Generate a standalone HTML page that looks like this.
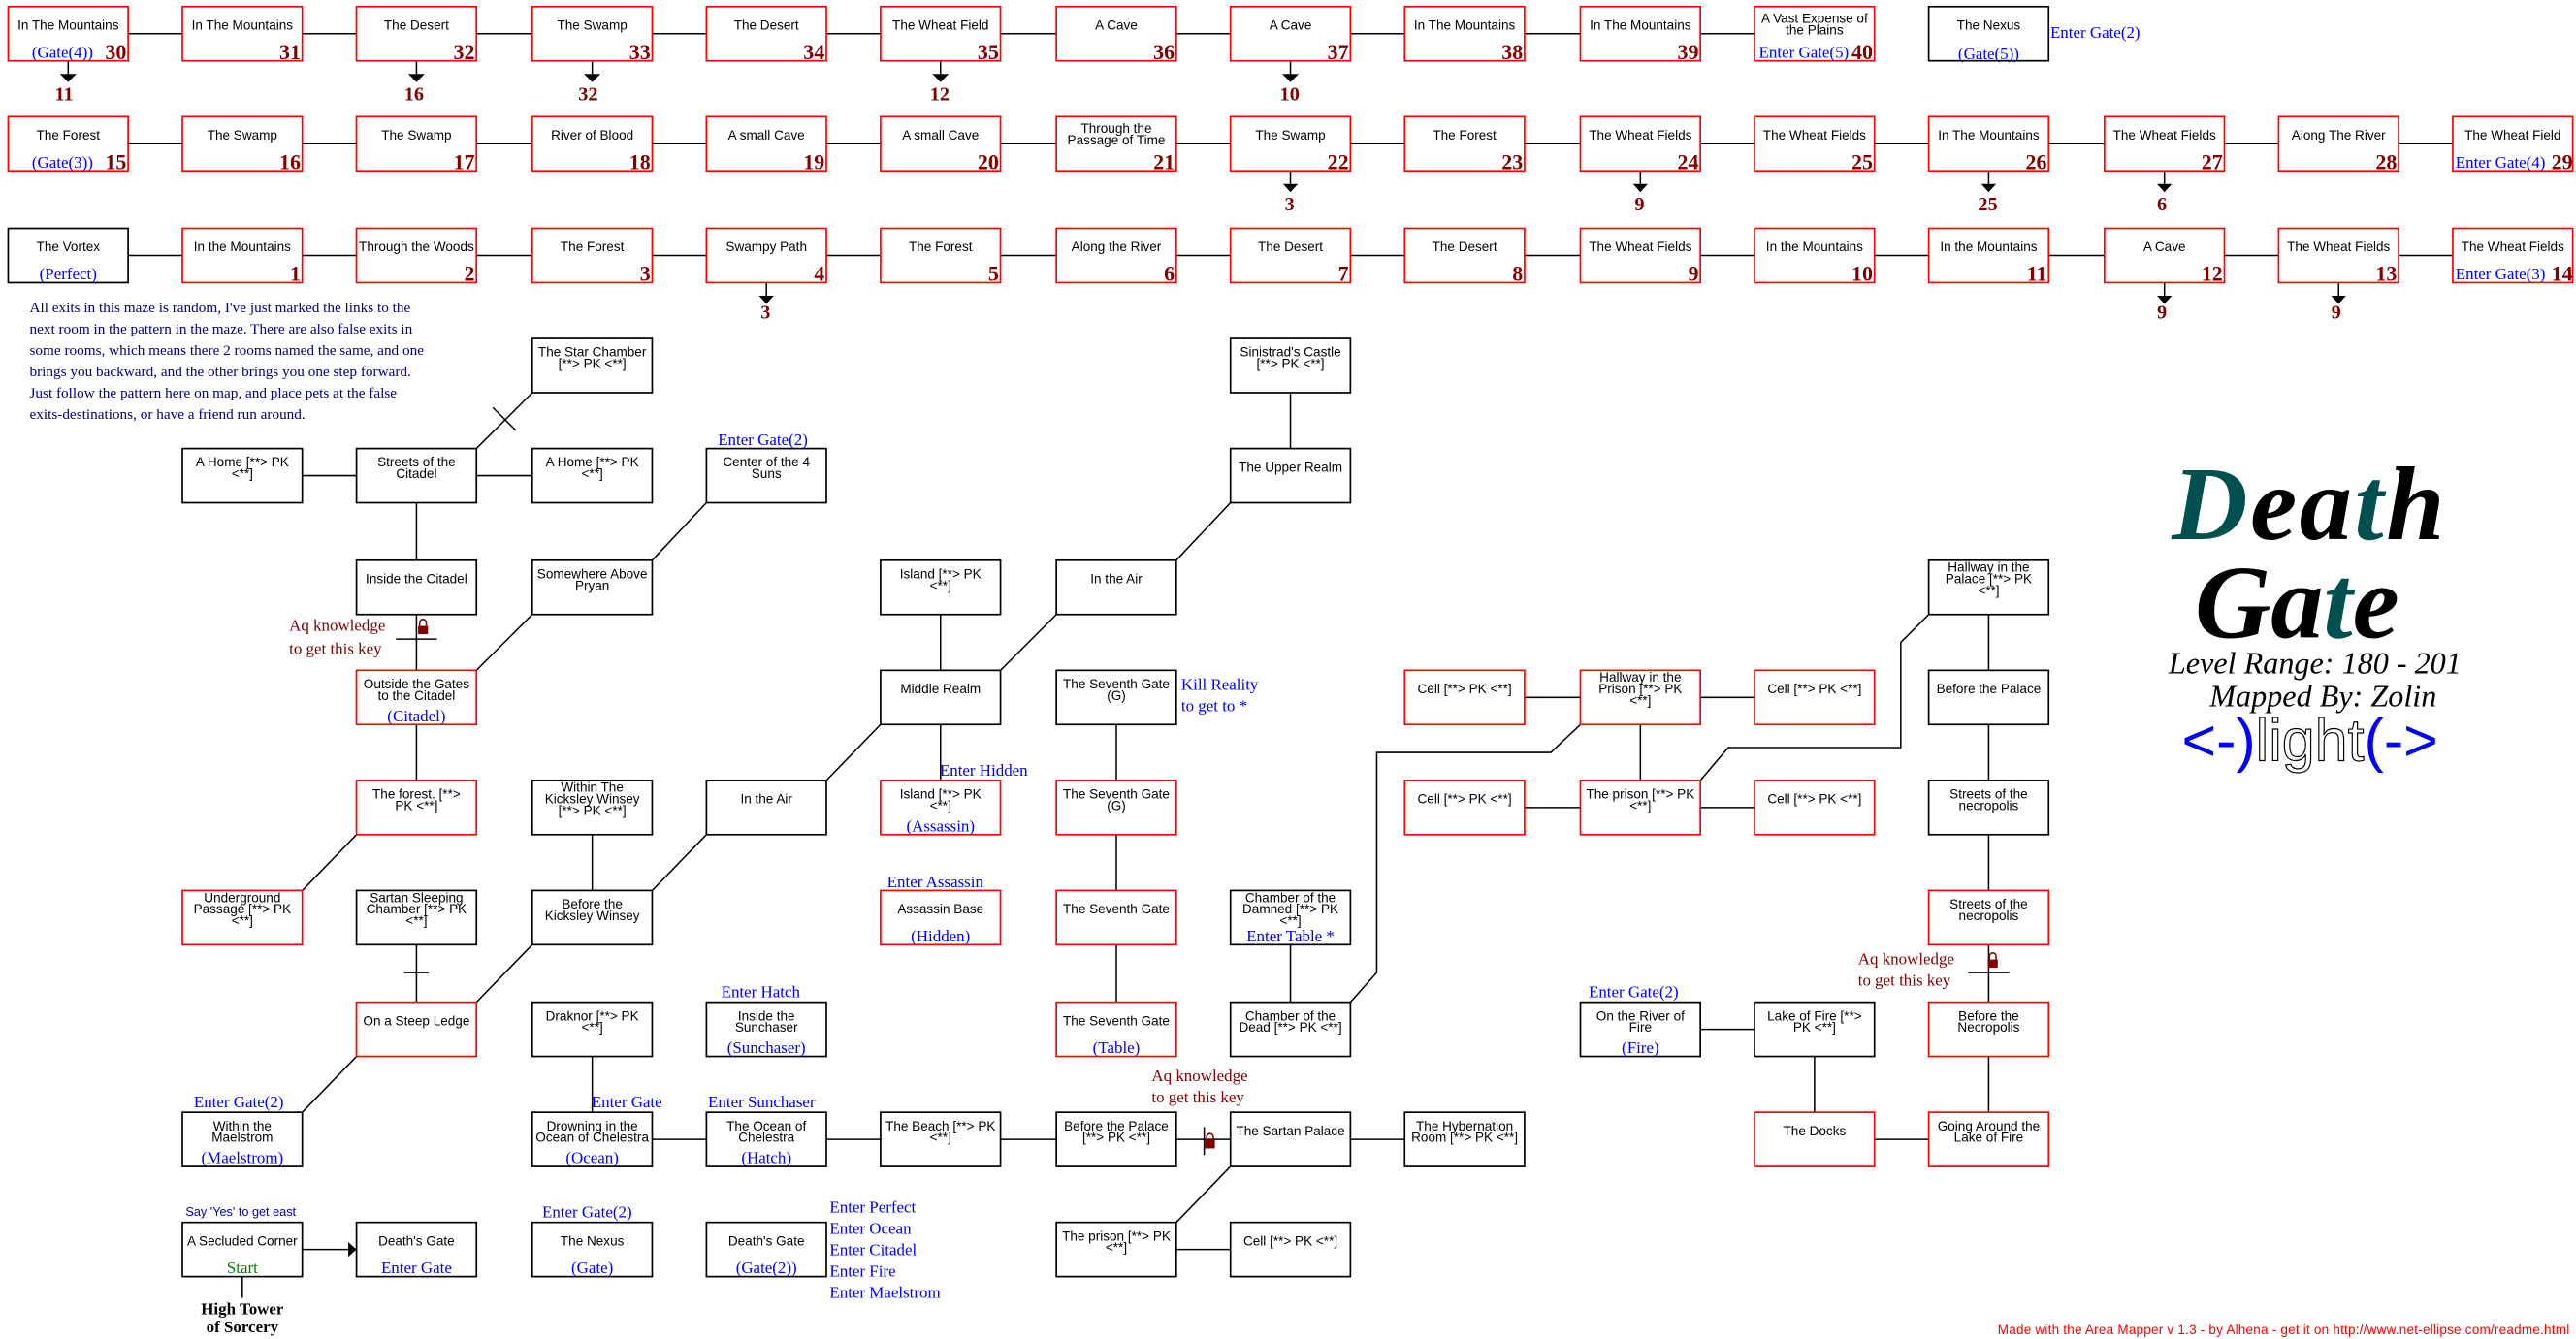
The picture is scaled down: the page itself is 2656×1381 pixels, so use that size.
<!DOCTYPE html>
<html><head><meta charset="utf-8"><style>
html,body{margin:0;padding:0;background:#fff;}
svg{display:block}
.n{font-family:"Liberation Sans Narrow","Liberation Sans",sans-serif;font-size:8px;text-anchor:middle;fill:#000}
.num{font-family:"Liberation Serif",serif;font-weight:bold;font-size:13px;text-anchor:end;fill:#800000}
.sub{font-family:"Liberation Serif",serif;font-size:10px;text-anchor:middle;fill:#0000ff}
.lb{font-family:"Liberation Serif",serif;font-size:10px;fill:#0000ff}
.key{font-family:"Liberation Serif",serif;font-size:10px;fill:#800000}
.an{font-family:"Liberation Serif",serif;font-weight:bold;font-size:12px;text-anchor:middle;fill:#800000}
.r{fill:#fff;stroke:#f00;stroke-width:1}
.b{fill:#fff;stroke:#000;stroke-width:1}
.ln{stroke:#000;stroke-width:0.9;fill:none}
</style></head><body>
<svg width="2656" height="1381" viewBox="0 0 1568 815" preserveAspectRatio="none" xmlns="http://www.w3.org/2000/svg">
<rect width="1568" height="815" fill="#fff"/>
<g class="ln">
<line x1="41" y1="20.5" x2="1104" y2="20.5"/>
<line x1="41" y1="87.5" x2="1529" y2="87.5"/>
<line x1="41" y1="155.5" x2="1529" y2="155.5"/>
<line x1="41.5" y1="37" x2="41.5" y2="45"/><line x1="253.5" y1="37" x2="253.5" y2="45"/><line x1="360.5" y1="37" x2="360.5" y2="45"/><line x1="572.5" y1="37" x2="572.5" y2="45"/><line x1="785.5" y1="37" x2="785.5" y2="45"/>
<line x1="785.5" y1="104" x2="785.5" y2="112"/><line x1="998.5" y1="104" x2="998.5" y2="112"/><line x1="1210.5" y1="104" x2="1210.5" y2="112"/><line x1="1317.5" y1="104" x2="1317.5" y2="112"/>
<line x1="466.5" y1="172" x2="466.5" y2="180"/><line x1="1317.5" y1="172" x2="1317.5" y2="180"/><line x1="1423.5" y1="172" x2="1423.5" y2="180"/>
<line x1="324" y1="239" x2="290" y2="273"/><line x1="300" y1="248" x2="314" y2="262"/>
<line x1="147" y1="289.5" x2="360" y2="289.5"/>
<line x1="253.5" y1="306" x2="253.5" y2="475"/>
<line x1="241" y1="389" x2="266" y2="389"/>
<line x1="430" y1="306" x2="397" y2="341"/>
<line x1="324" y1="374" x2="290" y2="408"/>
<line x1="217" y1="508" x2="184" y2="542"/>
<line x1="253.5" y1="575" x2="253.5" y2="610"/><line x1="246" y1="592" x2="261" y2="592"/>
<line x1="290" y1="610" x2="324" y2="575"/>
<line x1="360.5" y1="508" x2="360.5" y2="542"/>
<line x1="397" y1="542" x2="430" y2="508"/>
<line x1="503" y1="475" x2="536" y2="441"/>
<line x1="572.5" y1="374" x2="572.5" y2="475"/>
<line x1="609" y1="408" x2="643" y2="374"/>
<line x1="716" y1="341" x2="749" y2="306"/>
<line x1="785.5" y1="239" x2="785.5" y2="273"/>
<line x1="679.5" y1="441" x2="679.5" y2="610"/>
<line x1="217" y1="643" x2="184" y2="677"/>
<line x1="360.5" y1="643" x2="360.5" y2="677"/>
<line x1="360" y1="693.5" x2="891" y2="693.5"/>
<line x1="733" y1="686" x2="733" y2="703"/>
<line x1="749" y1="710" x2="716" y2="744"/>
<line x1="679" y1="760.5" x2="785" y2="760.5"/>
<line x1="785.5" y1="575" x2="785.5" y2="610"/>
<polyline points="822,610 838,592 838,458 944,458 962,441"/>
<line x1="891" y1="424.5" x2="1104" y2="424.5"/>
<line x1="998.5" y1="441" x2="998.5" y2="475"/>
<line x1="891" y1="491.5" x2="1104" y2="491.5"/>
<polyline points="1035,475 1052,455 1157,455 1157,391 1174,374"/>
<line x1="1210.5" y1="374" x2="1210.5" y2="677"/>
<line x1="1198" y1="592" x2="1223" y2="592"/>
<line x1="998" y1="626.5" x2="1104" y2="626.5"/>
<line x1="1104.5" y1="643" x2="1104.5" y2="677"/>
<line x1="1104" y1="693.5" x2="1210" y2="693.5"/>
<line x1="184" y1="760.5" x2="212" y2="760.5"/>
<line x1="147.5" y1="777" x2="147.5" y2="790"/>
</g>
<g fill="#000">
<polygon points="36.5,45 46.5,45 41.5,50"/><polygon points="248.5,45 258.5,45 253.5,50"/><polygon points="355.5,45 365.5,45 360.5,50"/><polygon points="567.5,45 577.5,45 572.5,50"/><polygon points="780.5,45 790.5,45 785.5,50"/>
<polygon points="781,112 790,112 785.5,117"/><polygon points="994,112 1003,112 998.5,117"/><polygon points="1206,112 1215,112 1210.5,117"/><polygon points="1313,112 1322,112 1317.5,117"/>
<polygon points="462,180 471,180 466.5,185"/><polygon points="1313,180 1322,180 1317.5,185"/><polygon points="1419,180 1428,180 1423.5,185"/>
<polygon points="212,756 217,760.5 212,765"/>
</g>
<text class="an" x="39" y="61">11</text><text class="an" x="252" y="61">16</text><text class="an" x="358" y="61">32</text><text class="an" x="572" y="61">12</text><text class="an" x="785" y="61">10</text>
<text class="an" x="785" y="128">3</text><text class="an" x="998" y="128">9</text><text class="an" x="1210" y="128">25</text><text class="an" x="1316" y="128">6</text>
<text class="an" x="466" y="194">3</text><text class="an" x="1316" y="194">9</text><text class="an" x="1422" y="194">9</text>

<g transform="translate(5,4)"><rect class="r" width="73" height="33"/><text class="n" x="36.5" y="14">In The Mountains</text><text class="sub" x="33" y="31">(Gate(4))</text><text class="num" x="72" y="32">30</text></g>
<g transform="translate(111,4)"><rect class="r" width="73" height="33"/><text class="n" x="36.5" y="14">In The Mountains</text><text class="num" x="72" y="32">31</text></g>
<g transform="translate(217,4)"><rect class="r" width="73" height="33"/><text class="n" x="36.5" y="14">The Desert</text><text class="num" x="72" y="32">32</text></g>
<g transform="translate(324,4)"><rect class="r" width="73" height="33"/><text class="n" x="36.5" y="14">The Swamp</text><text class="num" x="72" y="32">33</text></g>
<g transform="translate(430,4)"><rect class="r" width="73" height="33"/><text class="n" x="36.5" y="14">The Desert</text><text class="num" x="72" y="32">34</text></g>
<g transform="translate(536,4)"><rect class="r" width="73" height="33"/><text class="n" x="36.5" y="14">The Wheat Field</text><text class="num" x="72" y="32">35</text></g>
<g transform="translate(643,4)"><rect class="r" width="73" height="33"/><text class="n" x="36.5" y="14">A Cave</text><text class="num" x="72" y="32">36</text></g>
<g transform="translate(749,4)"><rect class="r" width="73" height="33"/><text class="n" x="36.5" y="14">A Cave</text><text class="num" x="72" y="32">37</text></g>
<g transform="translate(855,4)"><rect class="r" width="73" height="33"/><text class="n" x="36.5" y="14">In The Mountains</text><text class="num" x="72" y="32">38</text></g>
<g transform="translate(962,4)"><rect class="r" width="73" height="33"/><text class="n" x="36.5" y="14">In The Mountains</text><text class="num" x="72" y="32">39</text></g>
<g transform="translate(1068,4)"><rect class="r" width="73" height="33"/><text class="n" x="36.5" y="10">A Vast Expense of</text><text class="n" x="36.5" y="17">the Plains</text><text class="sub" x="30" y="31">Enter Gate(5)</text><text class="num" x="72" y="32">40</text></g>
<g transform="translate(1174,4)"><rect class="b" width="73" height="33"/><text class="n" x="36.5" y="14">The Nexus</text><text class="sub" x="36.5" y="32">(Gate(5))</text></g>
<text class="lb" x="1248" y="23">Enter Gate(2)</text>

<g transform="translate(5,71)"><rect class="r" width="73" height="33"/><text class="n" x="36.5" y="14">The Forest</text><text class="sub" x="33" y="31">(Gate(3))</text><text class="num" x="72" y="32">15</text></g>
<g transform="translate(111,71)"><rect class="r" width="73" height="33"/><text class="n" x="36.5" y="14">The Swamp</text><text class="num" x="72" y="32">16</text></g>
<g transform="translate(217,71)"><rect class="r" width="73" height="33"/><text class="n" x="36.5" y="14">The Swamp</text><text class="num" x="72" y="32">17</text></g>
<g transform="translate(324,71)"><rect class="r" width="73" height="33"/><text class="n" x="36.5" y="14">River of Blood</text><text class="num" x="72" y="32">18</text></g>
<g transform="translate(430,71)"><rect class="r" width="73" height="33"/><text class="n" x="36.5" y="14">A small Cave</text><text class="num" x="72" y="32">19</text></g>
<g transform="translate(536,71)"><rect class="r" width="73" height="33"/><text class="n" x="36.5" y="14">A small Cave</text><text class="num" x="72" y="32">20</text></g>
<g transform="translate(643,71)"><rect class="r" width="73" height="33"/><text class="n" x="36.5" y="10">Through the</text><text class="n" x="36.5" y="17">Passage of Time</text><text class="num" x="72" y="32">21</text></g>
<g transform="translate(749,71)"><rect class="r" width="73" height="33"/><text class="n" x="36.5" y="14">The Swamp</text><text class="num" x="72" y="32">22</text></g>
<g transform="translate(855,71)"><rect class="r" width="73" height="33"/><text class="n" x="36.5" y="14">The Forest</text><text class="num" x="72" y="32">23</text></g>
<g transform="translate(962,71)"><rect class="r" width="73" height="33"/><text class="n" x="36.5" y="14">The Wheat Fields</text><text class="num" x="72" y="32">24</text></g>
<g transform="translate(1068,71)"><rect class="r" width="73" height="33"/><text class="n" x="36.5" y="14">The Wheat Fields</text><text class="num" x="72" y="32">25</text></g>
<g transform="translate(1174,71)"><rect class="r" width="73" height="33"/><text class="n" x="36.5" y="14">In The Mountains</text><text class="num" x="72" y="32">26</text></g>
<g transform="translate(1281,71)"><rect class="r" width="73" height="33"/><text class="n" x="36.5" y="14">The Wheat Fields</text><text class="num" x="72" y="32">27</text></g>
<g transform="translate(1387,71)"><rect class="r" width="73" height="33"/><text class="n" x="36.5" y="14">Along The River</text><text class="num" x="72" y="32">28</text></g>
<g transform="translate(1493,71)"><rect class="r" width="73" height="33"/><text class="n" x="36.5" y="14">The Wheat Field</text><text class="sub" x="29" y="31">Enter Gate(4)</text><text class="num" x="73" y="32">29</text></g>

<g transform="translate(5,139)"><rect class="b" width="73" height="33"/><text class="n" x="36.5" y="14">The Vortex</text><text class="sub" x="36.5" y="31">(Perfect)</text></g>
<g transform="translate(111,139)"><rect class="r" width="73" height="33"/><text class="n" x="36.5" y="14">In the Mountains</text><text class="num" x="72" y="32">1</text></g>
<g transform="translate(217,139)"><rect class="r" width="73" height="33"/><text class="n" x="36.5" y="14">Through the Woods</text><text class="num" x="72" y="32">2</text></g>
<g transform="translate(324,139)"><rect class="r" width="73" height="33"/><text class="n" x="36.5" y="14">The Forest</text><text class="num" x="72" y="32">3</text></g>
<g transform="translate(430,139)"><rect class="r" width="73" height="33"/><text class="n" x="36.5" y="14">Swampy Path</text><text class="num" x="72" y="32">4</text></g>
<g transform="translate(536,139)"><rect class="r" width="73" height="33"/><text class="n" x="36.5" y="14">The Forest</text><text class="num" x="72" y="32">5</text></g>
<g transform="translate(643,139)"><rect class="r" width="73" height="33"/><text class="n" x="36.5" y="14">Along the River</text><text class="num" x="72" y="32">6</text></g>
<g transform="translate(749,139)"><rect class="r" width="73" height="33"/><text class="n" x="36.5" y="14">The Desert</text><text class="num" x="72" y="32">7</text></g>
<g transform="translate(855,139)"><rect class="r" width="73" height="33"/><text class="n" x="36.5" y="14">The Desert</text><text class="num" x="72" y="32">8</text></g>
<g transform="translate(962,139)"><rect class="r" width="73" height="33"/><text class="n" x="36.5" y="14">The Wheat Fields</text><text class="num" x="72" y="32">9</text></g>
<g transform="translate(1068,139)"><rect class="r" width="73" height="33"/><text class="n" x="36.5" y="14">In the Mountains</text><text class="num" x="72" y="32">10</text></g>
<g transform="translate(1174,139)"><rect class="r" width="73" height="33"/><text class="n" x="36.5" y="14">In the Mountains</text><text class="num" x="72" y="32">11</text></g>
<g transform="translate(1281,139)"><rect class="r" width="73" height="33"/><text class="n" x="36.5" y="14">A Cave</text><text class="num" x="72" y="32">12</text></g>
<g transform="translate(1387,139)"><rect class="r" width="73" height="33"/><text class="n" x="36.5" y="14">The Wheat Fields</text><text class="num" x="72" y="32">13</text></g>
<g transform="translate(1493,139)"><rect class="r" width="73" height="33"/><text class="n" x="36.5" y="14">The Wheat Fields</text><text class="sub" x="29" y="31">Enter Gate(3)</text><text class="num" x="73" y="32">14</text></g>

<g font-family="Liberation Serif,serif" font-size="9" fill="#000080">
<text x="18" y="190">All exits in this maze is random, I've just marked the links to the</text>
<text x="18" y="203">next room in the pattern in the maze. There are also false exits in</text>
<text x="18" y="216">some rooms, which means there 2 rooms named the same, and one</text>
<text x="18" y="229">brings you backward, and the other brings you one step forward.</text>
<text x="18" y="242">Just follow the pattern here on map, and place pets at the false</text>
<text x="18" y="255">exits-destinations, or have a friend run around.</text>
</g>

<g transform="translate(324,206)"><rect class="b" width="73" height="33"/><text class="n" x="36.5" y="11">The Star Chamber</text><text class="n" x="36.5" y="18">[**&gt; PK &lt;**]</text></g>
<g transform="translate(749,206)"><rect class="b" width="73" height="33"/><text class="n" x="36.5" y="11">Sinistrad's Castle</text><text class="n" x="36.5" y="18">[**&gt; PK &lt;**]</text></g>

<g transform="translate(111,273)"><rect class="b" width="73" height="33"/><text class="n" x="36.5" y="11">A Home [**&gt; PK</text><text class="n" x="36.5" y="18">&lt;**]</text></g>
<g transform="translate(217,273)"><rect class="b" width="73" height="33"/><text class="n" x="36.5" y="11">Streets of the</text><text class="n" x="36.5" y="18">Citadel</text></g>
<g transform="translate(324,273)"><rect class="b" width="73" height="33"/><text class="n" x="36.5" y="11">A Home [**&gt; PK</text><text class="n" x="36.5" y="18">&lt;**]</text></g>
<g transform="translate(430,273)"><rect class="b" width="73" height="33"/><text class="n" x="36.5" y="11">Center of the 4</text><text class="n" x="36.5" y="18">Suns</text></g>
<text class="lb" x="437" y="271">Enter Gate(2)</text>
<g transform="translate(749,273)"><rect class="b" width="73" height="33"/><text class="n" x="36.5" y="14">The Upper Realm</text></g>

<g transform="translate(217,341)"><rect class="b" width="73" height="33"/><text class="n" x="36.5" y="14">Inside the Citadel</text></g>
<g transform="translate(324,341)"><rect class="b" width="73" height="33"/><text class="n" x="36.5" y="11">Somewhere Above</text><text class="n" x="36.5" y="18">Pryan</text></g>
<g transform="translate(536,341)"><rect class="b" width="73" height="33"/><text class="n" x="36.5" y="11">Island [**&gt; PK</text><text class="n" x="36.5" y="18">&lt;**]</text></g>
<g transform="translate(643,341)"><rect class="b" width="73" height="33"/><text class="n" x="36.5" y="14">In the Air</text></g>
<g transform="translate(1174,341)"><rect class="b" width="73" height="33"/><text class="n" x="36.5" y="7">Hallway in the</text><text class="n" x="36.5" y="14">Palace [**&gt; PK</text><text class="n" x="36.5" y="21">&lt;**]</text></g>

<g transform="translate(217,408)"><rect class="r" width="73" height="33"/><text class="n" x="36.5" y="11">Outside the Gates</text><text class="n" x="36.5" y="18">to the Citadel</text><text class="sub" x="36.5" y="31">(Citadel)</text></g>
<g transform="translate(536,408)"><rect class="b" width="73" height="33"/><text class="n" x="36.5" y="14">Middle Realm</text></g>
<g transform="translate(643,408)"><rect class="b" width="73" height="33"/><text class="n" x="36.5" y="11">The Seventh Gate</text><text class="n" x="36.5" y="18">(G)</text></g>
<g transform="translate(855,408)"><rect class="r" width="73" height="33"/><text class="n" x="36.5" y="14">Cell [**&gt; PK &lt;**]</text></g>
<g transform="translate(962,408)"><rect class="r" width="73" height="33"/><text class="n" x="36.5" y="7">Hallway in the</text><text class="n" x="36.5" y="14">Prison [**&gt; PK</text><text class="n" x="36.5" y="21">&lt;**]</text></g>
<g transform="translate(1068,408)"><rect class="r" width="73" height="33"/><text class="n" x="36.5" y="14">Cell [**&gt; PK &lt;**]</text></g>
<g transform="translate(1174,408)"><rect class="b" width="73" height="33"/><text class="n" x="36.5" y="14">Before the Palace</text></g>

<g transform="translate(217,475)"><rect class="r" width="73" height="33"/><text class="n" x="36.5" y="11">The forest. [**&gt;</text><text class="n" x="36.5" y="18">PK &lt;**]</text></g>
<g transform="translate(324,475)"><rect class="b" width="73" height="33"/><text class="n" x="36.5" y="7">Within The</text><text class="n" x="36.5" y="14">Kicksley Winsey</text><text class="n" x="36.5" y="21">[**&gt; PK &lt;**]</text></g>
<g transform="translate(430,475)"><rect class="b" width="73" height="33"/><text class="n" x="36.5" y="14">In the Air</text></g>
<g transform="translate(536,475)"><rect class="r" width="73" height="33"/><text class="n" x="36.5" y="11">Island [**&gt; PK</text><text class="n" x="36.5" y="18">&lt;**]</text><text class="sub" x="36.5" y="31">(Assassin)</text></g>
<g transform="translate(643,475)"><rect class="r" width="73" height="33"/><text class="n" x="36.5" y="11">The Seventh Gate</text><text class="n" x="36.5" y="18">(G)</text></g>
<g transform="translate(855,475)"><rect class="r" width="73" height="33"/><text class="n" x="36.5" y="14">Cell [**&gt; PK &lt;**]</text></g>
<g transform="translate(962,475)"><rect class="r" width="73" height="33"/><text class="n" x="36.5" y="11">The prison [**&gt; PK</text><text class="n" x="36.5" y="18">&lt;**]</text></g>
<g transform="translate(1068,475)"><rect class="r" width="73" height="33"/><text class="n" x="36.5" y="14">Cell [**&gt; PK &lt;**]</text></g>
<g transform="translate(1174,475)"><rect class="b" width="73" height="33"/><text class="n" x="36.5" y="11">Streets of the</text><text class="n" x="36.5" y="18">necropolis</text></g>

<g transform="translate(111,542)"><rect class="r" width="73" height="33"/><text class="n" x="36.5" y="7">Underground</text><text class="n" x="36.5" y="14">Passage [**&gt; PK</text><text class="n" x="36.5" y="21">&lt;**]</text></g>
<g transform="translate(217,542)"><rect class="b" width="73" height="33"/><text class="n" x="36.5" y="7">Sartan Sleeping</text><text class="n" x="36.5" y="14">Chamber [**&gt; PK</text><text class="n" x="36.5" y="21">&lt;**]</text></g>
<g transform="translate(324,542)"><rect class="b" width="73" height="33"/><text class="n" x="36.5" y="11">Before the</text><text class="n" x="36.5" y="18">Kicksley Winsey</text></g>
<g transform="translate(536,542)"><rect class="r" width="73" height="33"/><text class="n" x="36.5" y="14">Assassin Base</text><text class="sub" x="36.5" y="31">(Hidden)</text></g>
<g transform="translate(643,542)"><rect class="r" width="73" height="33"/><text class="n" x="36.5" y="14">The Seventh Gate</text></g>
<g transform="translate(749,542)"><rect class="b" width="73" height="33"/><text class="n" x="36.5" y="7">Chamber of the</text><text class="n" x="36.5" y="14">Damned [**&gt; PK</text><text class="n" x="36.5" y="21">&lt;**]</text><text class="sub" x="36.5" y="31">Enter Table  *</text></g>
<g transform="translate(1174,542)"><rect class="r" width="73" height="33"/><text class="n" x="36.5" y="11">Streets of the</text><text class="n" x="36.5" y="18">necropolis</text></g>

<g transform="translate(217,610)"><rect class="r" width="73" height="33"/><text class="n" x="36.5" y="14">On a Steep Ledge</text></g>
<g transform="translate(324,610)"><rect class="b" width="73" height="33"/><text class="n" x="36.5" y="11">Draknor [**&gt; PK</text><text class="n" x="36.5" y="18">&lt;**]</text></g>
<g transform="translate(430,610)"><rect class="b" width="73" height="33"/><text class="n" x="36.5" y="11">Inside the</text><text class="n" x="36.5" y="18">Sunchaser</text><text class="sub" x="36.5" y="31">(Sunchaser)</text></g>
<text class="lb" x="439" y="607">Enter Hatch</text>
<g transform="translate(643,610)"><rect class="r" width="73" height="33"/><text class="n" x="36.5" y="14">The Seventh Gate</text><text class="sub" x="36.5" y="31">(Table)</text></g>
<g transform="translate(749,610)"><rect class="b" width="73" height="33"/><text class="n" x="36.5" y="11">Chamber of the</text><text class="n" x="36.5" y="18">Dead [**&gt; PK &lt;**]</text></g>
<g transform="translate(962,610)"><rect class="b" width="73" height="33"/><text class="n" x="36.5" y="11">On the River of</text><text class="n" x="36.5" y="18">Fire</text><text class="sub" x="36.5" y="31">(Fire)</text></g>
<text class="lb" x="967" y="607">Enter Gate(2)</text>
<g transform="translate(1068,610)"><rect class="b" width="73" height="33"/><text class="n" x="36.5" y="11">Lake of Fire [**&gt;</text><text class="n" x="36.5" y="18">PK &lt;**]</text></g>
<g transform="translate(1174,610)"><rect class="r" width="73" height="33"/><text class="n" x="36.5" y="11">Before the</text><text class="n" x="36.5" y="18">Necropolis</text></g>

<g transform="translate(111,677)"><rect class="b" width="73" height="33"/><text class="n" x="36.5" y="11">Within the</text><text class="n" x="36.5" y="18">Maelstrom</text><text class="sub" x="36.5" y="31">(Maelstrom)</text></g>
<text class="lb" x="118" y="674">Enter Gate(2)</text>
<g transform="translate(324,677)"><rect class="b" width="73" height="33"/><text class="n" x="36.5" y="11">Drowning in the</text><text class="n" x="36.5" y="18">Ocean of Chelestra</text><text class="sub" x="36.5" y="31">(Ocean)</text></g>
<text class="lb" x="360" y="674">Enter Gate</text>
<g transform="translate(430,677)"><rect class="b" width="73" height="33"/><text class="n" x="36.5" y="11">The Ocean of</text><text class="n" x="36.5" y="18">Chelestra</text><text class="sub" x="36.5" y="31">(Hatch)</text></g>
<text class="lb" x="431" y="674">Enter Sunchaser</text>
<g transform="translate(536,677)"><rect class="b" width="73" height="33"/><text class="n" x="36.5" y="11">The Beach [**&gt; PK</text><text class="n" x="36.5" y="18">&lt;**]</text></g>
<g transform="translate(643,677)"><rect class="b" width="73" height="33"/><text class="n" x="36.5" y="11">Before the Palace</text><text class="n" x="36.5" y="18">[**&gt; PK &lt;**]</text></g>
<g transform="translate(749,677)"><rect class="b" width="73" height="33"/><text class="n" x="36.5" y="14">The Sartan Palace</text></g>
<g transform="translate(855,677)"><rect class="b" width="73" height="33"/><text class="n" x="36.5" y="11">The Hybernation</text><text class="n" x="36.5" y="18">Room [**&gt; PK &lt;**]</text></g>
<g transform="translate(1068,677)"><rect class="r" width="73" height="33"/><text class="n" x="36.5" y="14">The Docks</text></g>
<g transform="translate(1174,677)"><rect class="r" width="73" height="33"/><text class="n" x="36.5" y="11">Going Around the</text><text class="n" x="36.5" y="18">Lake of Fire</text></g>

<g transform="translate(111,744)"><rect class="b" width="73" height="33"/><text class="n" x="36.5" y="14">A Secluded Corner</text><text class="sub" x="36.5" y="31" style="fill:#008000">Start</text></g>
<text x="113" y="740" font-family="Liberation Sans,sans-serif" font-size="7.5" fill="#0000c0">Say 'Yes' to get east</text>
<g transform="translate(217,744)"><rect class="b" width="73" height="33"/><text class="n" x="36.5" y="14">Death's Gate</text><text class="sub" x="36.5" y="31">Enter Gate</text></g>
<g transform="translate(324,744)"><rect class="b" width="73" height="33"/><text class="n" x="36.5" y="14">The Nexus</text><text class="sub" x="36.5" y="31">(Gate)</text></g>
<text class="lb" x="330" y="741">Enter Gate(2)</text>
<g transform="translate(430,744)"><rect class="b" width="73" height="33"/><text class="n" x="36.5" y="14">Death's Gate</text><text class="sub" x="36.5" y="31">(Gate(2))</text></g>
<g transform="translate(643,744)"><rect class="b" width="73" height="33"/><text class="n" x="36.5" y="11">The prison [**&gt; PK</text><text class="n" x="36.5" y="18">&lt;**]</text></g>
<g transform="translate(749,744)"><rect class="b" width="73" height="33"/><text class="n" x="36.5" y="14">Cell [**&gt; PK &lt;**]</text></g>

<text x="147.5" y="800" text-anchor="middle" font-family="Liberation Serif,serif" font-weight="bold" font-size="10" fill="#000">High Tower</text>
<text x="147.5" y="811" text-anchor="middle" font-family="Liberation Serif,serif" font-weight="bold" font-size="10" fill="#000">of Sorcery</text>

<text class="lb" x="572" y="472">Enter Hidden</text>
<text class="lb" x="540" y="540">Enter Assassin</text>
<text class="lb" x="719" y="420">Kill Reality</text>
<text class="lb" x="719" y="433">to get to *</text>
<g class="lb"><text x="505" y="738">Enter Perfect</text><text x="505" y="751">Enter Ocean</text><text x="505" y="764">Enter Citadel</text><text x="505" y="777">Enter Fire</text><text x="505" y="790">Enter Maelstrom</text></g>
<text class="key" x="176" y="384">Aq knowledge</text><text class="key" x="176" y="398">to get this key</text>
<text class="key" x="701" y="658">Aq knowledge</text><text class="key" x="701" y="671">to get this key</text>
<text class="key" x="1131" y="587">Aq knowledge</text><text class="key" x="1131" y="600">to get this key</text>
<g fill="#800000" stroke="#800000">
<path d="M255.5,381 v-2 a2,2 0 0 1 4,0 v2" fill="none" stroke-width="0.9"/><rect x="254.5" y="381" width="6" height="5" stroke="none"/>
<path d="M734.5,694 v-2 a2,2 0 0 1 4,0 v2" fill="none" stroke-width="0.9"/><rect x="733.5" y="694" width="6" height="5" stroke="none"/>
<path d="M1211,584 v-2 a2,2 0 0 1 4,0 v2" fill="none" stroke-width="0.9"/><rect x="1210" y="584" width="6" height="5" stroke="none"/>
</g>

<text x="1322" y="328" font-family="Liberation Serif,serif" font-style="italic" font-weight="bold" font-size="64" fill="#000" textLength="166"><tspan fill="#005050">D</tspan>ea<tspan fill="#005050">t</tspan>h</text>
<text x="1336" y="388" font-family="Liberation Serif,serif" font-style="italic" font-weight="bold" font-size="64" fill="#000">Ga<tspan fill="#005050">t</tspan>e</text>
<text x="1320" y="410" font-family="Liberation Serif,serif" font-style="italic" font-size="19" fill="#000">Level Range: 180 - 201</text>
<text x="1345" y="430" font-family="Liberation Serif,serif" font-style="italic" font-size="19" fill="#000">Mapped By: Zolin</text>
<text x="1328" y="463" font-family="Liberation Sans,sans-serif" font-size="36" fill="#0000ff">&lt;-)<tspan fill="#fff" stroke="#000" stroke-width="0.7">light</tspan>(-&gt;</text>

<text x="1216" y="812" font-family="Liberation Sans,sans-serif" font-size="8" fill="#f00" textLength="348">Made with the Area Mapper v 1.3 - by Alhena - get it on http://www.net-ellipse.com/readme.html</text>
</svg>
</body></html>
